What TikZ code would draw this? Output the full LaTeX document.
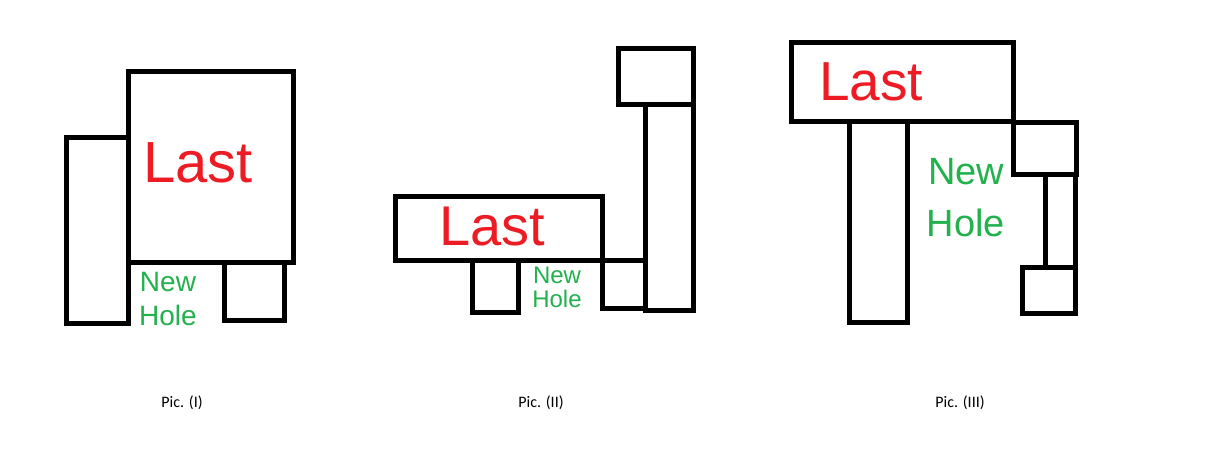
\documentclass[tikz,border=0pt]{standalone}
\usepackage{fontspec}
\setmainfont{Liberation Sans}
\newfontfamily\capfont{Carlito}
\definecolor{pred}{RGB}{237,28,36}
\definecolor{pgreen}{RGB}{34,177,76}
\begin{document}
\begin{tikzpicture}[x=1pt,y=-1pt,
  blk/.style={draw=black,line width=5pt,line join=miter},
  lastlbl/.style={text=pred,inner sep=0pt,anchor=center},
  holelbl/.style={text=pgreen,inner sep=0pt,anchor=center,align=center},
  caplbl/.style={inner sep=0pt,anchor=center,font=\capfont\fontsize{16}{19}\selectfont}]
\useasboundingbox[fill=white] (0,0) rectangle (1207,455);
% Pic I
\draw[blk] (128,71) rectangle (293,262);
\draw[blk] (66,137) rectangle (128,323);
\draw[blk] (224,262) rectangle (284,320);
\node[lastlbl,font=\fontsize{58}{60}\selectfont] (l1) at (198,163) {Last};
\node[holelbl,font=\fontsize{28}{34}\selectfont] (h1) at (168,299) {New\\Hole};
\node[caplbl] (c1) at (182,403) {Pic. (I)};
% Pic II
\draw[blk] (395,196) rectangle (602,260);
\draw[blk] (472,260) rectangle (518,312);
\draw[blk] (602,260) rectangle (645,308);
\draw[blk] (645,104) rectangle (693,310);
\draw[blk] (618,48) rectangle (693,104);
\node[lastlbl,font=\fontsize{56}{60}\selectfont] (l2) at (492,227) {Last};
\node[holelbl,font=\fontsize{24}{24}\selectfont] (h2) at (557,287) {New\\Hole};
\node[caplbl] (c2) at (541,403) {Pic. (II)};
% Pic III
\draw[blk] (791,42) rectangle (1013,121);
\draw[blk] (849,121) rectangle (907,322);
\draw[blk] (1013,122) rectangle (1076,174);
\draw[blk] (1045,174) rectangle (1075,267);
\draw[blk] (1022,267) rectangle (1075,313);
\node[lastlbl,font=\fontsize{55}{60}\selectfont] (l3) at (871,82) {Last};
\node[holelbl,font=\fontsize{38}{52}\selectfont] (h3) at (966,198) {New\\Hole};
\node[caplbl] (c3) at (960,403) {Pic. (III)};
\end{tikzpicture}
\end{document}
